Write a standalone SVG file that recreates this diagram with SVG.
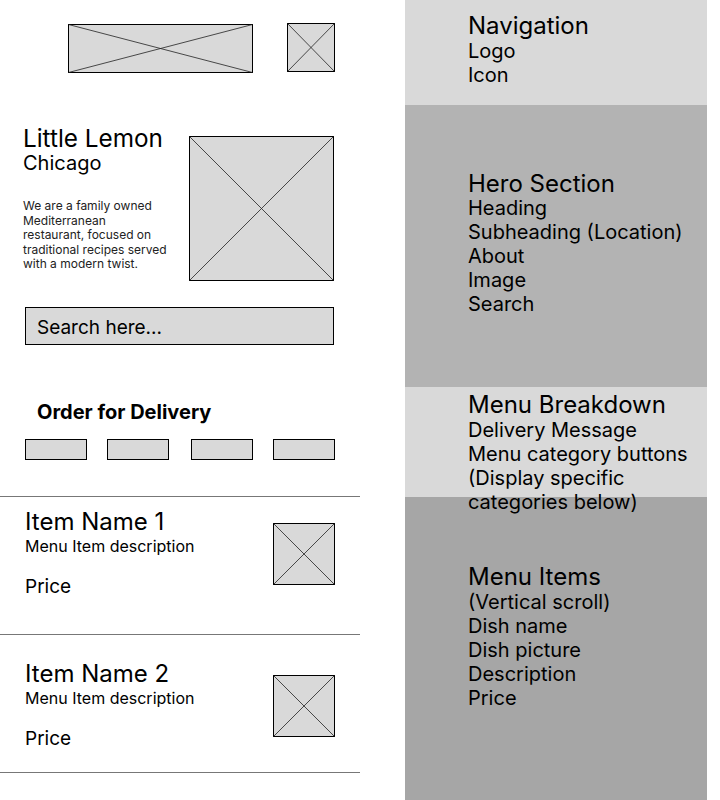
<svg xmlns="http://www.w3.org/2000/svg" width="720" height="800" viewBox="0 0 720 800">
<style>
text{font-family:Inter,"Liberation Sans",sans-serif;fill:#000}
.box{fill:#d9d9d9;stroke:#000;stroke-width:1}
.x{stroke:#222;stroke-width:0.8}
.div{stroke:#777;stroke-width:1}
.h{font-size:24px}
.s{font-size:20px}
.p{font-size:12px;fill:#222}
.n{font-size:24px}
.d{font-size:16px}
.pr{font-size:19px}
</style>
<rect width="720" height="800" fill="#fff"/>
<g id="annotations">
<rect x="405" y="0" width="302" height="105" fill="#d9d9d9"/>
<rect x="405" y="105" width="302" height="282" fill="#b3b3b3"/>
<rect x="405" y="387" width="302" height="110" fill="#d9d9d9"/>
<rect x="405" y="497" width="302" height="303" fill="#a6a6a6"/>
<text x="468" y="34" class="h">Navigation</text>
<text x="468" y="58" class="s">Logo</text>
<text x="468" y="82" class="s">Icon</text>
<text x="468" y="192" class="h">Hero Section</text>
<text x="468" y="215" class="s">Heading</text>
<text x="468" y="239" class="s">Subheading (Location)</text>
<text x="468" y="263" class="s">About</text>
<text x="468" y="287" class="s">Image</text>
<text x="468" y="311" class="s">Search</text>
<text x="468" y="412.5" class="h">Menu Breakdown</text>
<text x="468" y="436.5" class="s">Delivery Message</text>
<text x="468" y="460.5" class="s">Menu category buttons</text>
<text x="468" y="484.5" class="s">(Display specific</text>
<text x="468" y="508.5" class="s">categories below)</text>
<text x="468" y="585" class="h">Menu Items</text>
<text x="468" y="609" class="s">(Vertical scroll)</text>
<text x="468" y="633" class="s">Dish name</text>
<text x="468" y="657" class="s">Dish picture</text>
<text x="468" y="681" class="s">Description</text>
<text x="468" y="705" class="s">Price</text>
</g>
<g id="logo">
<rect class="box" x="68.5" y="24.5" width="184" height="48"/>
<path class="x" d="M68.5 24.5L252.5 72.5M252.5 24.5L68.5 72.5"/>
</g>
<g id="icon">
<rect class="box" x="287.5" y="23.5" width="47" height="48"/>
<path class="x" d="M287.5 23.5L334.5 71.5M334.5 23.5L287.5 71.5"/>
</g>
<g id="hero-text">
<text x="23" y="146.5" style="font-size:24.3px">Little Lemon</text>
<text x="23" y="170" class="s">Chicago</text>
<text x="23" y="210" class="p">We are a family owned</text>
<text x="23" y="224.5" class="p">Mediterranean</text>
<text x="23" y="239" class="p">restaurant, focused on</text>
<text x="23" y="253.5" class="p">traditional recipes served</text>
<text x="23" y="268" class="p">with a modern twist.</text>
</g>
<g id="hero-image">
<rect class="box" x="189.5" y="136.5" width="144" height="144"/>
<path class="x" d="M189.5 136.5L333.5 280.5M333.5 136.5L189.5 280.5"/>
</g>
<g id="search">
<rect class="box" x="25.5" y="307.5" width="308" height="37"/>
<text x="37" y="333.5" style="font-size:19px">Search here...</text>
</g>
<g id="delivery">
<text x="37" y="419" style="font-size:20px;font-weight:700">Order for Delivery</text>
</g>
<g id="category-buttons">
<rect class="box" x="25.5" y="439.5" width="61" height="20"/>
<rect class="box" x="107.5" y="439.5" width="61" height="20"/>
<rect class="box" x="191.5" y="439.5" width="61" height="20"/>
<rect class="box" x="273.5" y="439.5" width="61" height="20"/>
</g>
<g id="item-1">
<text x="25" y="530" class="n">Item Name 1</text>
<text x="25" y="551.5" class="d">Menu Item description</text>
<text x="25" y="592.5" class="pr">Price</text>
<rect class="box" x="273.5" y="523.5" width="61" height="61"/>
<path class="x" d="M273.5 523.5L334.5 584.5M334.5 523.5L273.5 584.5"/>
</g>
<g id="item-2">
<text x="25" y="682" class="n">Item Name 2</text>
<text x="25" y="703.5" class="d">Menu Item description</text>
<text x="25" y="744.5" class="pr">Price</text>
<rect class="box" x="273.5" y="675.5" width="61" height="61"/>
<path class="x" d="M273.5 675.5L334.5 736.5M334.5 675.5L273.5 736.5"/>
</g>
<g id="connectors">
<line class="div" x1="0" y1="496.5" x2="360" y2="496.5"/>
<line class="div" x1="0" y1="634.5" x2="360" y2="634.5"/>
<line class="div" x1="0" y1="772.5" x2="360" y2="772.5"/>
</g>
</svg>
